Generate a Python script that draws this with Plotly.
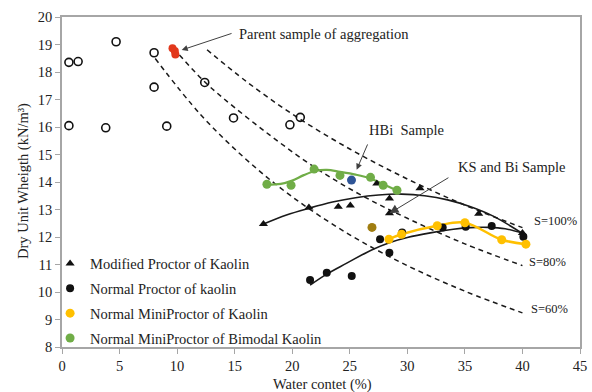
import plotly.graph_objects as go

# ---------------- data ----------------
open_w = [0.6, 1.4, 4.7, 8.0, 8.0, 0.6, 3.8, 9.1, 12.4, 14.9, 19.8, 20.7]
open_y = [18.35, 18.38, 19.1, 18.7, 17.45, 16.05, 15.97, 16.03, 17.62, 16.33, 16.08, 16.35]

red_w = [9.6, 9.8, 9.85]
red_y = [18.86, 18.76, 18.64]

mod_w = [17.5, 21.45, 24.0, 25.05, 27.35, 28.45, 28.45, 31.1, 36.2, 40.0]
mod_y = [12.47, 13.07, 13.1, 13.15, 13.95, 13.4, 12.86, 13.77, 12.85, 12.15]
mod_fit_w = [17.5, 19.5, 21.5, 23.5, 25.5, 27.5, 29.5, 31.5, 33.5, 35.5, 37.5, 40.0]
mod_fit_y = [12.47, 12.8, 13.05, 13.27, 13.43, 13.53, 13.56, 13.5, 13.35, 13.1, 12.75, 12.13]

np_w = [21.55, 23.0, 25.17, 27.63, 28.44, 29.55, 33.07, 35.07, 37.33, 40.08]
np_y = [10.44, 10.7, 10.58, 11.92, 11.43, 12.16, 12.35, 12.37, 12.4, 12.01]
np_fit_w = [21.55, 23.0, 24.7, 26.9, 28.5, 30.0, 32.0, 34.0, 35.5, 37.0, 38.5, 40.08]
np_fit_y = [10.25, 10.65, 11.04, 11.53, 11.8, 11.98, 12.15, 12.28, 12.34, 12.35, 12.3, 12.13]

mp_w = [28.4, 29.5, 32.6, 35.0, 38.2, 40.3]
mp_y = [11.92, 12.1, 12.41, 12.52, 11.9, 11.74]

bm_w = [17.8, 19.9, 21.9, 24.15, 26.8, 27.9, 29.1]
bm_y = [13.92, 13.88, 14.47, 14.24, 14.17, 13.88, 13.7]
bm_fit_w = [17.8, 19.0, 20.0, 21.0, 22.0, 23.0, 24.15, 25.5, 26.8, 27.9, 29.1]
bm_fit_y = [13.9, 13.93, 14.05, 14.25, 14.4, 14.44, 14.37, 14.27, 14.13, 13.92, 13.7]

hbi_w, hbi_y = [25.15], [14.07]
ksbi_w, ksbi_y = [26.93], [12.35]

s100_w = [12.6, 16, 20, 25, 30, 35, 40]
s100_y = [18.81, 17.66, 16.47, 15.2, 14.11, 13.16, 12.34]
s80_w = [10.2, 12.3, 14, 18, 22, 26, 30, 35, 40]
s80_y = [18.62, 17.68, 17.05, 15.72, 14.52, 13.52, 12.68, 11.75, 10.96]
s60_w = [8.1, 12, 16, 20, 25, 30, 35, 40]
s60_y = [18.49, 16.47, 14.82, 13.46, 12.08, 10.96, 10.03, 9.24]

x_ticks = [0, 5, 10, 15, 20, 25, 30, 35, 40, 45]
y_ticks = [8, 9, 10, 11, 12, 13, 14, 15, 16, 17, 18, 19, 20]

FONT = "Liberation Serif"
TXT = "#222222"
AX = "#a6a6a6"

fig = go.Figure()

dash_style = dict(color="#1a1a1a", width=1.5, dash="5px,4px")
for sw, sy in [(s100_w, s100_y), (s80_w, s80_y), (s60_w, s60_y)]:
    fig.add_trace(go.Scatter(x=sw, y=sy, mode="lines", line=dict(shape="spline", **dash_style),
                             showlegend=False, hoverinfo="skip"))

# fit curves
fig.add_trace(go.Scatter(x=mod_fit_w, y=mod_fit_y, mode="lines",
                         line=dict(color="#1a1a1a", width=1.6, shape="spline"), showlegend=False))
fig.add_trace(go.Scatter(x=np_fit_w, y=np_fit_y, mode="lines",
                         line=dict(color="#1a1a1a", width=1.6, shape="spline"), showlegend=False))
fig.add_trace(go.Scatter(x=mp_w, y=mp_y, mode="lines",
                         line=dict(color="#ffc000", width=2.5, shape="spline"), showlegend=False))
fig.add_trace(go.Scatter(x=bm_fit_w, y=bm_fit_y, mode="lines",
                         line=dict(color="#70ad47", width=2.2, shape="spline"), showlegend=False))

# open circles and parent sample
fig.add_trace(go.Scatter(x=open_w, y=open_y, mode="markers",
                         marker=dict(symbol="circle-open", size=8, color="#111", line=dict(width=1.6)),
                         showlegend=False))
fig.add_trace(go.Scatter(x=red_w, y=red_y, mode="markers",
                         marker=dict(symbol="circle", size=8, color="#e2381c"), showlegend=False))

# legend series
fig.add_trace(go.Scatter(x=mod_w, y=mod_y, mode="markers", name="Modified Proctor of Kaolin",
                         legendgroup="a",
                         marker=dict(symbol="triangle-up", size=8, color="#111")))
fig.add_trace(go.Scatter(x=np_w, y=np_y, mode="markers", name="Normal Proctor of kaolin",
                         legendgroup="b",
                         marker=dict(symbol="circle", size=8, color="#111")))
fig.add_trace(go.Scatter(x=mp_w, y=mp_y, mode="markers", name="Normal MiniProctor of Kaolin",
                         legendgroup="c",
                         marker=dict(symbol="circle", size=9, color="#ffc000")))
fig.add_trace(go.Scatter(x=bm_w, y=bm_y, mode="markers", name="Normal MiniProctor of Bimodal Kaolin",
                         legendgroup="d",
                         marker=dict(symbol="circle", size=9, color="#70ad47")))

fig.add_trace(go.Scatter(x=hbi_w, y=hbi_y, mode="markers",
                         marker=dict(symbol="circle", size=9, color="#2f5597"), showlegend=False))
fig.add_trace(go.Scatter(x=ksbi_w, y=ksbi_y, mode="markers",
                         marker=dict(symbol="circle", size=9, color="#a07d10"), showlegend=False))

annotations = []
# arrows
for hx, hy, tx, ty, sz in [(10.4, 18.8, 14.86, 19.42, 1.2), (25.6, 14.45, 26.6, 15.42, 1.2),
                           (28.45, 12.86, 33.7, 14.19, 1.8)]:
    annotations.append(dict(x=hx, y=hy, ax=tx, ay=ty, xref="x", yref="y", axref="x", ayref="y",
                            text="", showarrow=True, arrowhead=2, arrowsize=sz, arrowwidth=1,
                            arrowcolor="#404040", standoff=0))
# labels
for txt, lx, ly, fs in [("Parent sample of aggregation", 15.2, 19.38, 14.5),
                        ("HBi  Sample", 26.5, 15.89, 14.5),
                        ("KS and Bi Sample", 34.2, 14.56, 14.5),
                        ("S=100%", 40.8, 12.59, 12.5),
                        ("S=80%", 40.37, 11.08, 12.5),
                        ("S=60%", 40.57, 9.38, 12.5)]:
    annotations.append(dict(x=lx, y=ly, xref="x", yref="y", text=txt, showarrow=False,
                            xanchor="left", yanchor="middle",
                            font=dict(family=FONT, size=fs, color=TXT)))

# axis titles placed as paper-anchored text
annotations.append(dict(x=0.502, y=-0.115, xref="paper", yref="paper", text="Water contet (%)",
                        showarrow=False, xanchor="center", yanchor="middle",
                        font=dict(family=FONT, size=14.5, color=TXT)))
annotations.append(dict(x=-0.0753, y=0.503, xref="paper", yref="paper", text="Dry Unit Wheigth (kN/m³)",
                        showarrow=False, xanchor="center", yanchor="middle", textangle=-90,
                        font=dict(family=FONT, size=14.5, color=TXT)))

fig.update_layout(
    width=592, height=392, autosize=False,
    margin=dict(l=62, r=12, t=17, b=45, autoexpand=False),
    paper_bgcolor="white", plot_bgcolor="white",
    font=dict(family=FONT, size=14.5, color=TXT),
    annotations=annotations,
    legend=dict(x=-0.023, y=0.3015, xanchor="left", yanchor="top",
                bgcolor="rgba(0,0,0,0)", borderwidth=0,
                font=dict(family=FONT, size=14.5, color=TXT),
                tracegroupgap=3),
    xaxis=dict(range=[0, 45], tickvals=x_ticks, showline=True, mirror=True, linecolor=AX, linewidth=1.5,
               ticks="outside", ticklen=5, tickcolor=AX, showgrid=False, zeroline=False,
               tickfont=dict(family=FONT, size=14.5, color=TXT)),
    yaxis=dict(range=[8, 20], tickvals=y_ticks, showline=True, mirror=True, linecolor=AX, linewidth=1.5,
               ticks="outside", ticklen=5, tickcolor=AX, showgrid=False, zeroline=False,
               tickfont=dict(family=FONT, size=14.5, color=TXT)),
)

fig.write_html("out.html")
